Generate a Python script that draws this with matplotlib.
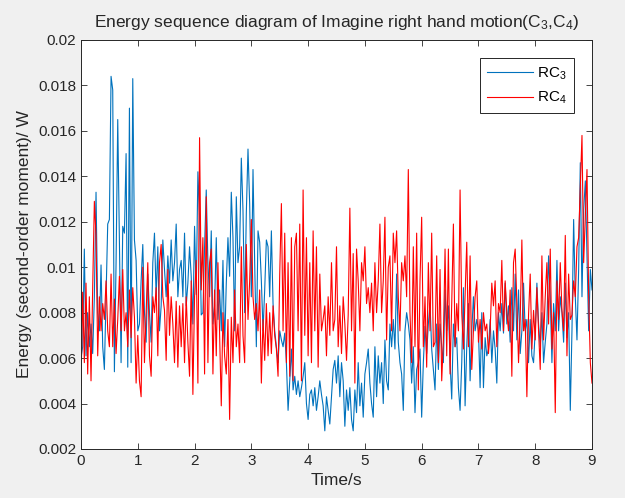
import numpy as np
import matplotlib
matplotlib.use("Agg")
import matplotlib.pyplot as plt
import matplotlib.ticker as mtick

rc3 = [
    # 0 - 1.45 s
    6.0, 6.5, 10.8, 6.1, 8.0, 6.5, 7.5, 6.2, 8.7, 13.3, 8.0, 7.2, 10.1, 6.5, 5.5, 8.7, 11.9, 12.1,
    18.4, 17.8, 5.4, 10.2, 16.5, 11.3, 5.8, 11.8, 11.5, 15.0, 5.6, 17.0, 5.8, 18.3, 11.2, 10.3,
    7.2, 7.5, 9.4, 11.0, 8.0, 6.7, 9.7, 8.0, 6.7, 10.2, 11.5, 8.7, 10.9, 7.2, 8.3, 11.2,
    # 1.48 - 3.03 s
    9.9, 8.7, 10.5, 9.3, 11.2, 9.4, 10.2, 11.9, 8.7, 9.9, 10.3, 8.7, 11.5, 8.3, 9.3, 10.9, 9.6,
    7.5, 11.8, 8.8, 14.2, 12.2, 7.9, 8.0, 10.9, 13.4, 10.2, 8.7, 11.6, 7.5, 8.3, 11.3, 7.7, 9.0,
    7.2, 10.3, 6.5, 9.3, 11.3, 9.6, 13.3, 11.3, 7.2, 13.1, 10.2, 10.9, 14.8, 12.5, 8.0, 12.4,
    15.2, 12.8, 8.7, 14.3,
    # 3.06 - 4.62 s
    10.2, 6.5, 11.6, 11.1, 9.4, 7.2, 9.0, 11.2, 10.9, 8.7, 11.6, 8.4, 7.2, 6.5, 5.8, 7.2, 6.8,
    6.5, 7.1, 5.8, 3.7, 5.0, 6.4, 4.6, 5.2, 4.4, 5.0, 4.3, 4.7, 5.2, 5.8, 4.0, 3.3, 4.4, 4.6,
    3.9, 4.7, 3.7, 4.3, 5.0, 4.4, 3.9, 2.8, 4.3, 3.7, 3.1, 4.3, 5.5, 5.9, 4.9, 6.1, 4.3, 5.8, 5.0,
    # 4.65 - 6.2 s
    3.0, 4.6, 3.7, 4.7, 3.3, 2.8, 4.6, 3.6, 5.8, 3.9, 4.9, 3.4, 5.3, 5.8, 6.4, 4.9, 4.0, 3.4,
    6.5, 4.3, 6.1, 4.9, 5.8, 4.0, 6.8, 5.0, 4.6, 7.5, 6.5, 7.7, 6.4, 9.7, 6.7, 5.8, 5.3, 3.7,
    7.2, 8.0, 7.5, 6.8, 4.9, 6.5, 3.6, 5.5, 5.8, 6.4, 3.4, 5.8, 7.4, 6.2, 7.5, 8.4, 6.4, 5.5,
    # 6.23 - 7.79 s
    4.6, 7.5, 5.5, 7.5, 6.5, 5.8, 9.0, 7.2, 8.3, 5.8, 4.2, 7.5, 6.5, 6.9, 4.7, 3.7, 5.8, 9.1,
    3.9, 6.5, 8.4, 5.0, 7.2, 8.7, 7.2, 7.7, 7.2, 4.7, 8.0, 4.7, 6.9, 6.1, 6.4, 7.7, 5.8, 7.2,
    6.4, 4.9, 8.0, 7.2, 8.4, 7.1, 9.3, 7.5, 8.3, 6.7, 9.1, 7.2, 9.7, 6.8, 9.0, 6.2, 7.2, 9.3,
    # 7.82 - 9 s
    7.2, 7.7, 5.8, 7.7, 6.1, 5.8, 7.2, 9.3, 7.5, 6.5, 8.0, 5.8, 6.7, 7.5, 10.5, 8.7, 5.8, 8.4,
    7.2, 10.3, 7.2, 8.7, 8.0, 6.7, 9.3, 6.9, 8.0, 3.7, 7.2, 12.1, 8.7, 6.8, 9.9, 14.6, 8.7,
    12.5, 13.8, 10.5, 7.2, 9.9, 9.0,
]

rc4 = [
    # 0 - 1.45 s
    4.8, 8.9, 5.8, 9.3, 5.3, 8.7, 5.0, 9.1, 12.9, 11.4, 6.1, 8.7, 7.2, 8.4, 7.7, 9.4, 7.2, 6.5,
    9.7, 6.5, 8.6, 6.2, 7.7, 9.6, 7.2, 9.9, 7.2, 8.0, 6.5, 9.0, 6.9, 9.1, 7.8, 4.9, 7.0, 5.0,
    4.3, 10.0, 5.8, 8.0, 10.2, 6.1, 5.2, 8.7, 8.0, 9.1, 6.1, 10.2, 11.0, 8.7,
    # 1.48 - 3.03 s
    8.1, 5.9, 9.9, 7.0, 8.7, 7.5, 5.8, 8.5, 5.6, 8.3, 6.5, 8.4, 5.8, 8.7, 6.7, 5.2, 9.4, 4.4,
    8.7, 10.3, 4.9, 15.7, 9.0, 11.3, 5.3, 13.1, 5.8, 10.2, 10.8, 5.3, 9.0, 6.1, 10.2, 7.0, 3.9,
    8.0, 6.1, 5.3, 7.7, 3.3, 7.8, 5.8, 9.0, 6.5, 7.5, 5.8, 10.9, 7.0, 5.8, 11.0, 7.7, 9.4, 12.1, 8.7,
    # 3.06 - 4.62 s
    7.7, 8.4, 7.2, 9.0, 4.9, 7.7, 5.9, 8.4, 6.1, 8.0, 6.2, 8.3, 7.0, 6.4, 5.2, 9.7, 12.8, 7.2,
    11.5, 5.8, 10.2, 5.2, 11.3, 5.0, 10.9, 11.5, 7.2, 11.9, 5.0, 13.4, 7.0, 11.3, 6.1, 10.2,
    5.8, 11.6, 7.2, 10.9, 5.6, 9.7, 7.2, 7.7, 8.3, 6.1, 8.7, 7.0, 10.2, 7.2, 7.7, 10.9, 6.5, 8.3,
    6.2, 8.7,
    # 4.65 - 6.2 s
    7.5, 5.9, 7.9, 12.6, 7.2, 10.6, 4.9, 10.8, 9.4, 7.2, 10.2, 9.4, 10.9, 8.4, 9.1, 8.0, 9.3,
    7.2, 10.2, 8.0, 9.4, 11.9, 8.0, 9.4, 12.2, 6.8, 10.0, 10.5, 7.2, 11.5, 10.2, 11.6, 8.7, 7.2,
    10.2, 9.4, 10.5, 8.7, 14.3, 8.0, 5.8, 10.9, 6.5, 11.5, 4.6, 9.4, 12.2, 6.5, 8.7, 5.6, 10.2,
    7.2, 11.5, 6.5,
    # 6.23 - 7.79 s
    6.7, 10.5, 5.8, 9.9, 5.0, 6.8, 10.8, 6.1, 10.8, 5.3, 8.4, 11.9, 6.5, 8.4, 7.2, 13.4, 8.0,
    6.4, 8.7, 11.1, 6.5, 10.5, 5.5, 7.2, 8.7, 9.4, 6.7, 7.7, 6.4, 8.0, 7.2, 7.5, 6.2, 7.2, 9.3,
    8.3, 9.4, 6.5, 8.4, 8.0, 10.3, 7.2, 9.4, 8.0, 7.2, 9.0, 5.2, 10.2, 10.8, 8.4, 5.8, 7.7, 11.2, 7.2,
    # 7.82 - 9 s
    7.7, 4.3, 7.9, 9.7, 6.4, 8.1, 6.8, 9.1, 7.2, 5.5, 10.5, 6.8, 8.7, 10.2, 7.5, 10.8, 6.4,
    8.0, 3.6, 9.4, 7.7, 10.2, 8.1, 7.2, 11.4, 6.1, 9.7, 7.7, 7.9, 9.4, 8.7, 10.9, 11.3, 13.5,
    15.8, 10.2, 12.2, 14.3, 8.7, 5.8, 4.9,
]

t_end = 9.0
y_ticks = [0.002, 0.004, 0.006, 0.008, 0.01, 0.012, 0.014, 0.016, 0.018, 0.02]

rc3 = np.array(rc3) * 1e-3
rc4 = np.array(rc4) * 1e-3
t3 = np.linspace(0, t_end, len(rc3))
t4 = np.linspace(0, t_end, len(rc4))

plt.rcParams["font.family"] = ["Liberation Sans", "DejaVu Sans"]
plt.rcParams["mathtext.default"] = "regular"

fig = plt.figure(figsize=(6.25, 4.98), dpi=100, facecolor="#f0f0f0")
ax = fig.add_axes([0.1296, 0.0984, 0.8176, 0.8213])

ax.plot(t3, rc3, color="#0072BD", lw=0.8, label="RC$_3$")
ax.plot(t4, rc4, color="#FF0000", lw=0.8, label="RC$_4$")

ax.set_xlim(0, 9)
ax.set_ylim(0.002, 0.02)
ax.set_xticks(range(10))
ax.set_yticks(y_ticks)
ax.yaxis.set_major_formatter(mtick.FormatStrFormatter("%g"))
ax.tick_params(direction="in", top=True, right=True, labelsize=11,
               colors="#262626", length=4, width=0.6)
for s in ax.spines.values():
    s.set_color("#262626")
    s.set_linewidth(0.7)

ax.set_xlabel("Time/s", fontsize=12.5, color="#262626")
ax.set_ylabel("Energy (second-order moment)/ W", fontsize=12.5, color="#262626")
ax.set_title("Energy sequence diagram of Imagine right hand motion(C$_3$,C$_4$)",
             fontsize=12.5, color="#262626", pad=9)

leg = ax.legend(loc="upper right", fontsize=11, fancybox=False, framealpha=1,
                edgecolor="#262626", handlelength=3.0, handletextpad=0.3,
                labelspacing=0.55, borderaxespad=1.2, borderpad=0.45)
leg.get_frame().set_linewidth(0.7)

fig.savefig("out.png", dpi=100, facecolor=fig.get_facecolor())
